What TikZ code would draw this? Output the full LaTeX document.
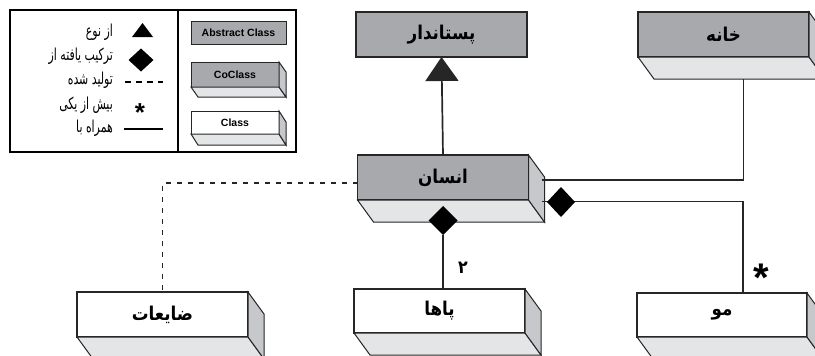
\documentclass[tikz,border=0pt]{standalone}
\usepackage{fontspec}
\setmainfont{Liberation Sans}
\usetikzlibrary{shapes.geometric,arrows.meta}
\TeXXeTstate=1
\newfontfamily\fa[Script=Arabic,FakeStretch=0.66]{DejaVu Sans}
\newfontfamily\fab[Script=Arabic,FakeStretch=0.88]{DejaVu Sans Bold}
\definecolor{frontc}{HTML}{A7A9AC}
\definecolor{bottomc}{HTML}{E4E5E6}
\definecolor{sidec}{HTML}{C7C8CB}
\definecolor{edge}{HTML}{262626}
\newcommand\boxfaces[3]{%
  \draw[facedraw, fill=bottomc] (#1.south west) -- ++(#2,#3) -- ([shift={(#2,#3)}]#1.south east) -- (#1.south east) -- cycle;
  \draw[facedraw, fill=sidec] (#1.north east) -- ++(#2,#3) -- ([shift={(#2,#3)}]#1.south east) -- (#1.south east) -- cycle;
}
\tikzset{
  facedraw/.style={draw=edge, line width=1pt, line join=miter},
  bigbox/.style={draw=edge, line width=1.1pt, rectangle, inner sep=0pt, outer sep=0pt,
    minimum width=171pt, minimum height=45pt, font=\fab\fontsize{19}{21}\selectfont},
  abstractbox/.style={bigbox, fill=frontc},
  coclassbox/.style={bigbox, fill=frontc},
  classbox/.style={bigbox, fill=white},
  smallbox/.style={draw=edge, line width=0.9pt, rectangle, inner sep=0pt, outer sep=0pt,
    minimum width=88pt, minimum height=24pt, font=\bfseries\fontsize{10.5}{11}\selectfont},
  conn/.style={draw=edge, line width=1.7pt},
  dashconn/.style={draw=edge, line width=1.7pt, dash pattern=on 5pt off 6pt},
  blackdia/.style={diamond, fill=black, inner sep=0pt, outer sep=0pt},
  legtext/.style={anchor=east, inner sep=0pt, font=\fa\fontsize{16.5}{18}\selectfont},
  mult/.style={inner sep=0pt, font=\bfseries\fontsize{40}{40}\selectfont},
}
\begin{document}
\begin{tikzpicture}[x=1pt,y=-1pt]
\useasboundingbox (0,0) rectangle (815,356);
\clip (0,0) rectangle (815,356);

% ---------- legend ----------
\node[draw=black, line width=1.7pt, rectangle, minimum width=286pt, minimum height=142pt,
      inner sep=0pt, outer sep=0pt] (legend) at (153,81) {};
\draw[line width=1.7pt] (178,10) -- (178,152);

\fill[black] (132,37) -- (142.5,23) -- (153,37) -- cycle;
\node[blackdia, minimum width=25pt, minimum height=23pt] (ldia) at (141,60) {};
\draw[line width=1.6pt, dash pattern=on 6pt off 5pt] (125,82) -- (163,82);
\node[inner sep=0pt, font=\bfseries\fontsize{26}{26}\selectfont] (last) at (140,113) {*};
\draw[line width=1.6pt] (124,129) -- (163,129);

\node[legtext] (t1) at (113,32) {\beginR از نوع\endR};
\node[legtext] (t2) at (113,56) {\beginR ترکیب یافته از\endR};
\node[legtext] (t3) at (113,80) {\beginR تولید شده\endR};
\node[legtext] (t4) at (113,105) {\beginR بیش از یکی\endR};
\node[legtext] (t5) at (113,128) {\beginR همراه با\endR};

\node[smallbox, fill=frontc, minimum width=95pt, minimum height=23pt] (labs) at (238.5,32.5) {Abstract Class};
\node[smallbox, fill=frontc, minimum height=25pt] (lco) at (235,74.5) {CoClass};
\boxfaces{lco}{7}{10}
\node[smallbox, fill=white, minimum height=23pt] (lcl) at (235,122.5) {Class};
\boxfaces{lcl}{7}{11}

% ---------- main boxes ----------
\node[abstractbox] (mam) at (441.5,34.5) {\beginR پستاندار\endR};
\node[coclassbox] (house) at (723.5,34.5) {\beginR خانه\endR};
\boxfaces{house}{16}{22}
\node[coclassbox] (human) at (443,177.5) {\beginR انسان\endR};
\boxfaces{human}{16}{22}
\node[classbox] (waste) at (162.5,314.5) {\beginR ضایعات\endR};
\boxfaces{waste}{16}{22}
\node[classbox, minimum height=44pt] (legs) at (439.5,311) {\beginR پاها\endR};
\boxfaces{legs}{16}{22}
\node[classbox, minimum width=170pt, minimum height=44pt] (hair) at (722,315) {\beginR مو\endR};
\boxfaces{hair}{16}{22}

% ---------- connectors ----------
\draw[conn, -{Triangle[width=33pt,length=24pt]}] (human.north) -- (mam.south);
\draw[conn] ([shift={(13,2.5)}]human.east) -| ([shift={(20,22)}]house.south);
\draw[conn] ([shift={(13,24)}]human.east) -| ([xshift=21pt]hair.north);
\node[blackdia, minimum width=28pt, minimum height=30pt] (dhair) at (561,202) {};
\draw[dashconn] ([shift={(0,5.5)}]human.west) -| (waste.north);
\node[blackdia, minimum width=29pt, minimum height=29pt] (dlegs) at (443,220.5) {};
\draw[conn] (dlegs.south) -- (dlegs.south |- legs.north);
\node[inner sep=0pt, font=\fab\fontsize{18}{18}\selectfont] (two) at (463,268) {۲};
\node[mult] (many) at (761,278) {*};
\end{tikzpicture}
\end{document}
